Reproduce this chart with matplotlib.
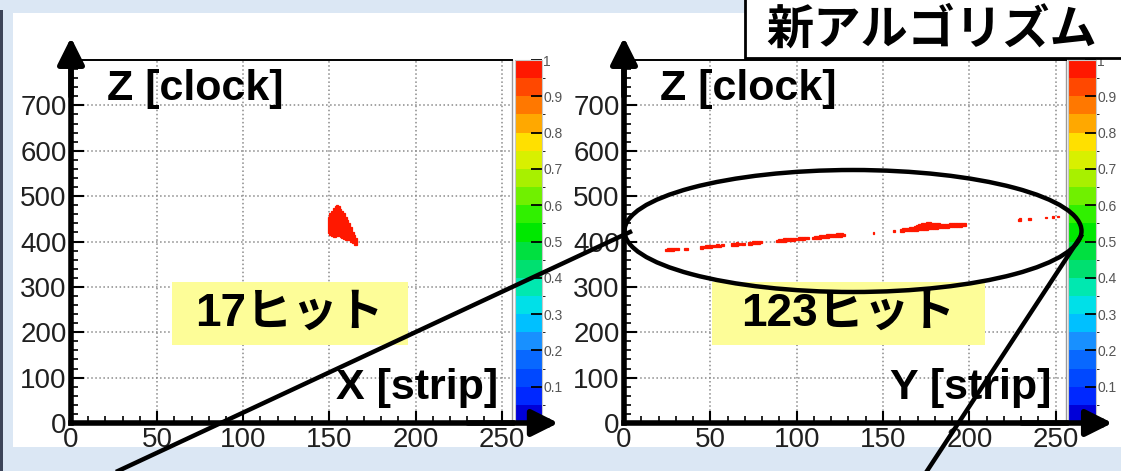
import numpy as np
import matplotlib
matplotlib.use('Agg')
import matplotlib.pyplot as plt
from matplotlib.colors import ListedColormap, BoundaryNorm
from matplotlib.cm import ScalarMappable
from matplotlib.patches import Rectangle, Ellipse
from matplotlib.lines import Line2D
from matplotlib.ticker import MultipleLocator, FuncFormatter

plt.rcParams['font.family'] = ['Liberation Sans', 'Noto Sans CJK JP', 'DejaVu Sans']

W, H = 1121, 471

# ---- hits, X view (strip, clock from, clock to) ----
x_strip = [149, 150, 151, 152, 153, 154, 155, 156, 157, 158, 159, 160, 161, 162, 163, 164, 165]
x_zlo = [418, 414, 412, 410, 410, 412, 412, 410, 408, 406, 404, 404, 403, 400, 396, 393, 392]
x_zhi = [455, 462, 468, 474, 478, 480, 478, 472, 468, 462, 455, 448, 440, 432, 420, 414, 408]

# ---- hits, Y view ----
y_strip = ([24, 25, 26, 27, 28, 29, 30, 31] + [35, 36]
           + list(range(44, 58)) + [62, 63, 64, 65, 66] + [68, 69]
           + [72, 73, 74, 75, 76, 77, 78, 79] + list(range(88, 100))
           + [101, 102, 103, 104, 105, 106] + list(range(109, 128))
           + [144] + [156] + list(range(160, 167)) + list(range(167, 186))
           + list(range(186, 198)) + [228, 229] + [234, 235] + [244, 248, 251])
y_zlo = ([379, 379, 380, 380, 380, 381, 381, 381] + [381, 381]
         + [384, 384, 385, 385, 386, 386, 386, 387, 387, 388, 388, 388, 389, 389]
         + [390, 390, 391, 391, 392] + [392, 392]
         + [393, 393, 394, 394, 395, 395, 395, 396]
         + [398, 398, 399, 399, 400, 400, 401, 401, 401, 402, 402, 403]
         + [403, 403, 404, 404, 405, 405]
         + [405, 405, 406, 406, 406, 407, 407, 408, 408, 408, 409, 409, 410, 410, 410, 411, 411, 412, 412]
         + [417] + [421] + [422, 422, 423, 423, 423, 424, 424]
         + [424, 424, 424, 425, 425, 425, 426, 426, 426, 427, 427, 427, 428, 428, 428, 429, 429, 429, 430]
         + [430, 430, 431, 431, 431, 432, 432, 432, 433, 433, 434, 434]
         + [446, 446] + [447, 448] + [451, 452, 453])
y_zhi = ([384, 385, 385, 386, 385, 386, 386, 385] + [385, 386]
         + [390, 391, 391, 392, 392, 393, 392, 393, 393, 394, 394, 393, 394, 394]
         + [396, 397, 397, 398, 397] + [397, 397]
         + [399, 400, 401, 401, 402, 401, 402, 401]
         + [404, 405, 406, 406, 407, 407, 408, 408, 407, 408, 408, 408]
         + [409, 410, 410, 411, 411, 410]
         + [411, 412, 413, 413, 414, 414, 415, 415, 416, 416, 416, 417, 417, 417, 418, 418, 418, 418, 417]
         + [421] + [425] + [428, 429, 429, 430, 430, 431, 431]
         + [432, 434, 436, 438, 439, 440, 441, 441, 442, 442, 442, 441, 441, 440, 440, 440, 439, 439, 439]
         + [439, 439, 440, 440, 440, 441, 441, 441, 441, 441, 441, 440]
         + [450, 451] + [451, 452] + [455, 456, 457])

hit_value = 1.0

# 20-level palette for the z scale
palette = ['#0000d8', '#0028ff', '#0048ff', '#0868ff', '#1890ff',
           '#00c0ff', '#00e0e8', '#00e8b0', '#00e070', '#00e040',
           '#00e800', '#30f000', '#70f000', '#a8f000', '#d8f000',
           '#ffe000', '#ffa800', '#ff7800', '#ff4800', '#ff1800']
cmap = ListedColormap(palette)
norm = BoundaryNorm(np.linspace(0, 1, 21), 20)
cb_ticks = [0, 0.1, 0.2, 0.3, 0.4, 0.5, 0.6, 0.7, 0.8, 0.9, 1]


def fx(px):
    return px / W


def fy(py):
    return 1 - py / H


fig = plt.figure(figsize=(W / 100, H / 100), dpi=100)
fig.patch.set_facecolor('#dbe7f4')
fig.patches.append(Rectangle((fx(13), fy(447)), fx(1121) - fx(13), fy(13) - fy(447),
                             transform=fig.transFigure, fc='white', ec='none', zorder=-2))
fig.patches.append(Rectangle((0, 0), fx(3), fy(10), transform=fig.transFigure,
                             fc='#3c4458', ec='none', zorder=-1))

ax_x = fig.add_axes([fx(71), fy(423), fx(512) - fx(71), fy(60) - fy(423)])
cax_x = fig.add_axes([fx(515), fy(423), fx(542) - fx(515), fy(60) - fy(423)])
ax_y = fig.add_axes([fx(624), fy(423), fx(1066) - fx(624), fy(60) - fy(423)])
cax_y = fig.add_axes([fx(1068), fy(423), fx(1096) - fx(1068), fy(60) - fy(423)])


def draw_view(ax, cax, strips, zlo, zhi, view_label, box_x):
    zlo = np.array(zlo)
    zhi = np.array(zhi)
    ax.set_zorder(3)
    cax.set_zorder(1)
    hit_color = cmap(norm(hit_value))
    ax.bar(strips, zhi - zlo, bottom=zlo, width=1.0, align='edge',
           color=hit_color, edgecolor=hit_color, linewidth=0.9, zorder=3)
    ax.set_xlim(0, 256)
    ax.set_ylim(0, 800)
    ax.set_xticks(range(0, 251, 50))
    ax.set_yticks(range(0, 701, 100))
    ax.xaxis.set_minor_locator(MultipleLocator(10))
    ax.yaxis.set_minor_locator(MultipleLocator(20))
    ax.grid(True, which='major', linestyle=':', color='#8a8a8a', lw=1.1)
    ax.tick_params(which='major', direction='in', length=9, width=1.5, labelsize=20,
                   labelcolor='#202020', pad=3)
    ax.tick_params(which='minor', direction='in', length=5, width=1.2)
    for s in ['left', 'bottom']:
        ax.spines[s].set_linewidth(4)
    ax.spines['top'].set_linewidth(1.4)
    ax.spines['right'].set_linewidth(1)
    ax.spines['right'].set_color('#9a9a9a')

    # axis arrows
    arrow = dict(arrowstyle='-|>,head_length=0.9,head_width=0.45', lw=4, color='k',
                 mutation_scale=18, shrinkA=0, shrinkB=0)
    ax.annotate('', xy=(0, 1.062), xytext=(0, 0.9), xycoords='axes fraction',
                arrowprops=arrow, annotation_clip=False, zorder=6)
    ax.annotate('', xy=(1.105, 0), xytext=(0.9, 0), xycoords='axes fraction',
                arrowprops=arrow, annotation_clip=False, zorder=6)

    ax.text(72, 735, 'Z [clock]', fontsize=31, fontweight='bold', ha='center', va='center', zorder=5)
    ax.text(201, 78, view_label, fontsize=31, fontweight='bold', ha='center', va='center', zorder=5)

    ax.add_patch(Rectangle((box_x[0], 172), box_x[1] - box_x[0], 138, fc='#fdfd98', ec='none', zorder=4))
    ax.text((box_x[0] + box_x[1]) / 2, 240, f'{len(strips)}ヒット', fontsize=33,
            fontweight='bold', family=['Liberation Sans', 'Noto Sans CJK JP'],
            ha='center', va='center', zorder=5)

    cb = fig.colorbar(ScalarMappable(norm=norm, cmap=cmap), cax=cax, ticks=cb_ticks)
    cb.outline.set_edgecolor('#c8c8c8')
    cb.outline.set_linewidth(0.8)
    cax.tick_params(direction='in', length=8, width=1.3, color='k',
                    labelsize=10, labelcolor='#555555', pad=1)
    cax.yaxis.set_major_formatter(FuncFormatter(lambda v, p: f'{v:g}'))


draw_view(ax_x, cax_x, x_strip, x_zlo, x_zhi, 'X [strip]', (58.6, 195.4))
draw_view(ax_y, cax_y, y_strip, y_zlo, y_zhi, 'Y [strip]', (51, 209))

# highlight of the Y-view track and its links
fig.add_artist(Ellipse((fx(853), fy(231)), fx(457), 122 / H, transform=fig.transFigure,
                       fill=False, ec='k', lw=3.2, zorder=10))
fig.add_artist(Line2D([fx(118), fx(630)], [fy(471), fy(232)], transform=fig.transFigure,
                      color='k', lw=3.2, zorder=10))
fig.add_artist(Line2D([fx(927), fx(1081)], [fy(471), fy(236)], transform=fig.transFigure,
                      color='k', lw=3.2, zorder=10))

# title box
fig.add_artist(Rectangle((fx(745), fy(58)), fx(1130) - fx(745), fy(-5) - fy(58),
                         transform=fig.transFigure, fc='white', ec='k', lw=2, zorder=11))
fig.text(fx(932), fy(30), '新アルゴリズム', fontsize=34, fontweight='bold',
         family=['Noto Sans CJK JP'], ha='center', va='center', zorder=12)

fig.savefig('out.png', dpi=100)
